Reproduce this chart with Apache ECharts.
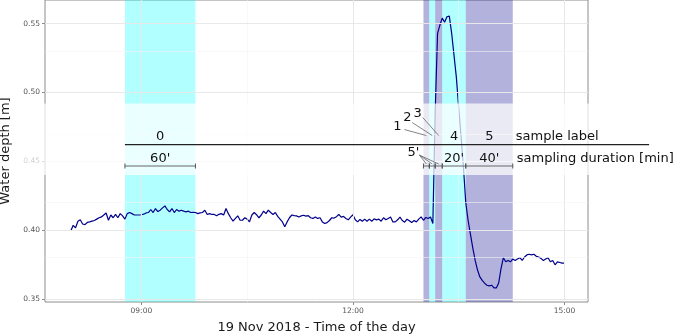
<!DOCTYPE html>
<html>
<head>
<meta charset="utf-8">
<script src="https://cdn.jsdelivr.net/npm/echarts@6.0.0/dist/echarts.min.js"></script>
<style>
  html, body { margin: 0; padding: 0; background: #fff; }
  #depth-chart { width: 673px; height: 336px; }
</style>
</head>
<body>
<div id="depth-chart"></div>
<script>
// water depth [m], one reading every 2 minutes from 08:00 to 15:00
var startTime = "08:00";
var stepMinutes = 2;
var depth = [
  0.3995, 0.4035, 0.4017, 0.4065, 0.4075, 0.4045, 0.404, 0.4056, 0.406, 0.4065, 0.407, 0.408,
  0.409, 0.4096, 0.411, 0.4125, 0.4072, 0.411, 0.409, 0.4114, 0.409, 0.412, 0.4104, 0.408,
  0.412, 0.4128, 0.412, 0.411, 0.411, 0.411, 0.4112, 0.4116, 0.4125, 0.4128, 0.415, 0.4128,
  0.4157, 0.4135, 0.4145, 0.4162, 0.4176, 0.415, 0.4133, 0.4157, 0.4128, 0.415, 0.4138, 0.4145,
  0.4138, 0.4133, 0.4138, 0.4128, 0.413, 0.4128, 0.412, 0.4125, 0.4128, 0.4145, 0.4114, 0.412,
  0.4114, 0.4114, 0.4104, 0.4115, 0.412, 0.411, 0.4157, 0.412, 0.409, 0.4065, 0.4085, 0.4104,
  0.4072, 0.4072, 0.409, 0.408, 0.406, 0.411, 0.4128, 0.4112, 0.409, 0.411, 0.4138, 0.412,
  0.4145, 0.4128, 0.4114, 0.4128, 0.41, 0.408, 0.406, 0.4024, 0.406, 0.409, 0.411, 0.4105,
  0.4104, 0.4096, 0.4104, 0.4108, 0.4102, 0.4105, 0.409, 0.4085, 0.4096, 0.4085, 0.409, 0.406,
  0.4048, 0.4055, 0.407, 0.409, 0.4088, 0.4098, 0.4114, 0.4095, 0.41, 0.4085, 0.4075, 0.4095,
  0.4112, 0.4075, 0.406, 0.4078, 0.4065, 0.408, 0.4065, 0.408, 0.4065, 0.4082, 0.4075, 0.408,
  0.4065, 0.409, 0.4075, 0.4085, 0.4095, 0.406, 0.406, 0.4075, 0.4095, 0.407, 0.4058, 0.408,
  0.4068, 0.4055, 0.407, 0.406, 0.408, 0.4096, 0.4072, 0.4092, 0.4085, 0.4096, 0.4048, 0.486,
  0.543, 0.549, 0.554, 0.551, 0.555, 0.5555, 0.543, 0.527, 0.511, 0.489, 0.468, 0.446,
  0.420, 0.407, 0.397, 0.387, 0.378, 0.371, 0.366, 0.3635, 0.3615, 0.360, 0.3595, 0.360,
  0.358, 0.358, 0.3616, 0.372, 0.380, 0.377, 0.378, 0.377, 0.379, 0.378, 0.379, 0.380,
  0.378, 0.3805, 0.382, 0.3825, 0.382, 0.3825, 0.381, 0.3805, 0.3795, 0.378, 0.379, 0.380,
  0.377, 0.378, 0.3748, 0.377, 0.3765, 0.376, 0.376
];

var xRange = ["07:38", "15:20"];
var yRange = [0.3478, 0.5672];
var xTicks = ["09:00", "12:00", "15:00"];
var xMinorTicks = ["10:30", "13:30"];
var yTicks = [0.35, 0.40, 0.45, 0.50, 0.55];
var yMinorTicks = [0.375, 0.425, 0.475, 0.525];

// samples
var sampleLabels = ["0", "1", "2", "3", "4", "5"];
var sampleStart = ["08:46", "13:00", "13:05", "13:10", "13:16", "13:36"];
var sampleEnd = ["09:46", "13:05", "13:10", "13:16", "13:36", "14:16"];
var sampleDuration = ["60'", "5'", "5'", "5'", "20'", "40'"];
var sampleGroup = [0, 1, 0, 1, 0, 1];

// annotation rows (depth units)
var boxRange = [0.440, 0.492];
var labelLineY = 0.4621;
var labelTextY = 0.468;
var durationTextY = 0.452;
var bracketY = 0.4466;
var labelLineEnd = "16:12";

var groupColors = ["rgba(0,255,255,0.3)", "rgba(0,0,139,0.3)"];
var FONT = "DejaVu Sans";

function toMin(s) {
  var p = s.split(":");
  return +p[0] * 60 + +p[1];
}
function fmtTime(v) {
  var h = Math.floor(v / 60), m = Math.round(v % 60);
  return (h < 10 ? "0" : "") + h + ":" + (m < 10 ? "0" : "") + m;
}

var t0 = toMin(startTime);
var points = depth.map(function (d, i) { return [t0 + i * stepMinutes, d]; });

var major = { type: "solid", color: "#e8e8e8", width: 1 };
var minor = { type: "solid", color: "#f3f3f3", width: 0.6 };
var gridLines = [];
xTicks.forEach(function (t) { gridLines.push({ xAxis: toMin(t), lineStyle: major }); });
xMinorTicks.forEach(function (t) { gridLines.push({ xAxis: toMin(t), lineStyle: minor }); });
yTicks.forEach(function (v) { gridLines.push({ yAxis: v, lineStyle: major }); });
yMinorTicks.forEach(function (v) { gridLines.push({ yAxis: v, lineStyle: minor }); });

var bands = sampleLabels.map(function (l, i) {
  return [
    { xAxis: toMin(sampleStart[i]), itemStyle: { color: groupColors[sampleGroup[i]] } },
    { xAxis: toMin(sampleEnd[i]) }
  ];
});

var chart = echarts.init(document.getElementById("depth-chart"), null, { renderer: "canvas" });

var option = {
  animation: false,
  textStyle: { fontFamily: FONT },
  grid: {
    left: 45, right: 85, top: 0, bottom: 34,
    outerBoundsMode: "none",
    containLabel: false,
    show: true, borderColor: "#8c8c8c", borderWidth: 1, backgroundColor: "transparent"
  },
  xAxis: {
    type: "value",
    min: toMin(xRange[0]),
    max: toMin(xRange[1]),
    name: "19 Nov 2018 - Time of the day",
    nameLocation: "middle",
    nameGap: 19,
    nameTextStyle: { fontFamily: FONT, fontSize: 13, color: "#1a1a1a" },
    axisLine: { show: false },
    axisTick: { show: true, length: 3, lineStyle: { color: "#8c8c8c" }, customValues: xTicks.map(toMin) },
    axisLabel: {
      fontFamily: FONT, fontSize: 7.5, color: "#555", margin: 5,
      customValues: xTicks.map(toMin),
      formatter: function (v) { return fmtTime(v); }
    },
    splitLine: { show: false }
  },
  yAxis: {
    type: "value",
    min: yRange[0],
    max: yRange[1],
    name: "Water depth [m]",
    nameLocation: "middle",
    nameGap: 31,
    nameRotate: 90,
    nameTextStyle: { fontFamily: FONT, fontSize: 13, color: "#1a1a1a" },
    axisLine: { show: false },
    axisTick: { show: true, length: 3, lineStyle: { color: "#8c8c8c" }, customValues: yTicks },
    axisLabel: {
      fontFamily: FONT, fontSize: 7.5, color: "#555", margin: 5,
      customValues: yTicks,
      formatter: function (v) { return v.toFixed(2); }
    },
    splitLine: { show: false }
  },
  series: [
    {
      name: "grid",
      type: "line",
      data: [],
      z: 0,
      silent: true,
      markLine: { silent: true, symbol: "none", label: { show: false }, data: gridLines }
    },
    {
      name: "samples",
      type: "line",
      data: [],
      z: 1,
      silent: true,
      markArea: { silent: true, data: bands }
    },
    {
      name: "depth",
      type: "line",
      data: points,
      z: 3,
      showSymbol: false,
      symbol: "none",
      lineStyle: { color: "#00008b", width: 1.2 },
      itemStyle: { color: "#00008b" }
    }
  ]
};
chart.setOption(option);

function px(t, v) {
  return chart.convertToPixel({ gridIndex: 0 }, [t, v]);
}

function drawAnnotations() {
  var g = [];
  var gridLeft = px(toMin(xRange[0]), 0)[0];
  var gridRight = px(toMin(xRange[1]), 0)[0];
  var boxTop = px(0, boxRange[1])[1];
  var boxBottom = px(0, boxRange[0])[1];

  // translucent white band over the labels
  g.push({
    type: "rect", z: 100,
    shape: { x: gridLeft - 23, y: boxTop, width: gridRight - gridLeft + 25, height: boxBottom - boxTop },
    style: { fill: "rgba(255,255,255,0.72)" }
  });

  // sample label line
  var lineY = px(0, labelLineY)[1];
  g.push({
    type: "line", z: 101,
    shape: { x1: px(toMin(sampleStart[0]), 0)[0], y1: lineY, x2: px(toMin(labelLineEnd), 0)[0], y2: lineY },
    style: { stroke: "#222", lineWidth: 1.2 }
  });

  var textY = px(0, labelTextY)[1];
  var durY = px(0, durationTextY)[1];
  var brY = px(0, bracketY)[1];

  function text(str, x, y, align) {
    g.push({
      type: "text", z: 102, x: x, y: y,
      style: { text: str, fontFamily: FONT, fontSize: 13, fill: "#111", align: align || "center", verticalAlign: "middle" }
    });
  }
  function seg(x1, y1, x2, y2, color, w) {
    g.push({
      type: "line", z: 101,
      shape: { x1: x1, y1: y1, x2: x2, y2: y2 },
      style: { stroke: color || "#555", lineWidth: w || 0.8 }
    });
  }

  // brackets: sample 0 on its own, samples 1-5 chained
  var bx = sampleLabels.map(function (l, i) {
    return [px(toMin(sampleStart[i]), 0)[0], px(toMin(sampleEnd[i]), 0)[0]];
  });
  seg(bx[0][0], brY, bx[0][1], brY, "#666", 1);
  seg(bx[1][0], brY, bx[5][1], brY, "#666", 1);
  bx.forEach(function (b) {
    seg(b[0], brY - 2.5, b[0], brY + 2.5, "#555", 1);
    seg(b[1], brY - 2.5, b[1], brY + 2.5, "#555", 1);
  });

  // sample 0, 4, 5 labels centred in their windows
  [0, 4, 5].forEach(function (i) {
    var mx = (bx[i][0] + bx[i][1]) / 2;
    text(sampleLabels[i], mx, textY);
    text(sampleDuration[i], mx, durY);
  });

  // short samples 1-3 with leader lines
  var leaderOffsets = [[-29, -10, 7, 3], [-25, -18.5, 5, 4.5], [-21, -23, 5, 4]];
  [1, 2, 3].forEach(function (i, k) {
    var mx = (bx[i][0] + bx[i][1]) / 2;
    var o = leaderOffsets[k];
    var lx = mx + o[0], ly = textY + o[1];
    text(sampleLabels[i], lx, ly);
    seg(lx + o[2], ly + o[3], mx, textY - 1, "#666", 0.8);
  });
  // shared 5' duration
  var m1 = (bx[1][0] + bx[1][1]) / 2;
  var fx = m1 - 13, fy = durY - 6;
  text(sampleDuration[1], fx, fy);
  [1, 2, 3].forEach(function (i) {
    var mx = (bx[i][0] + bx[i][1]) / 2;
    seg(fx + 6, fy + 2.5, mx, brY - 2, "#666", 0.8);
  });

  // row captions
  var capX = px(toMin(sampleEnd[5]), 0)[0] + 3;
  text("sample label", capX, textY, "left");
  text("sampling duration [min]", capX + 1, durY, "left");

  chart.setOption({ graphic: g });
}
drawAnnotations();
</script>
</body>
</html>
